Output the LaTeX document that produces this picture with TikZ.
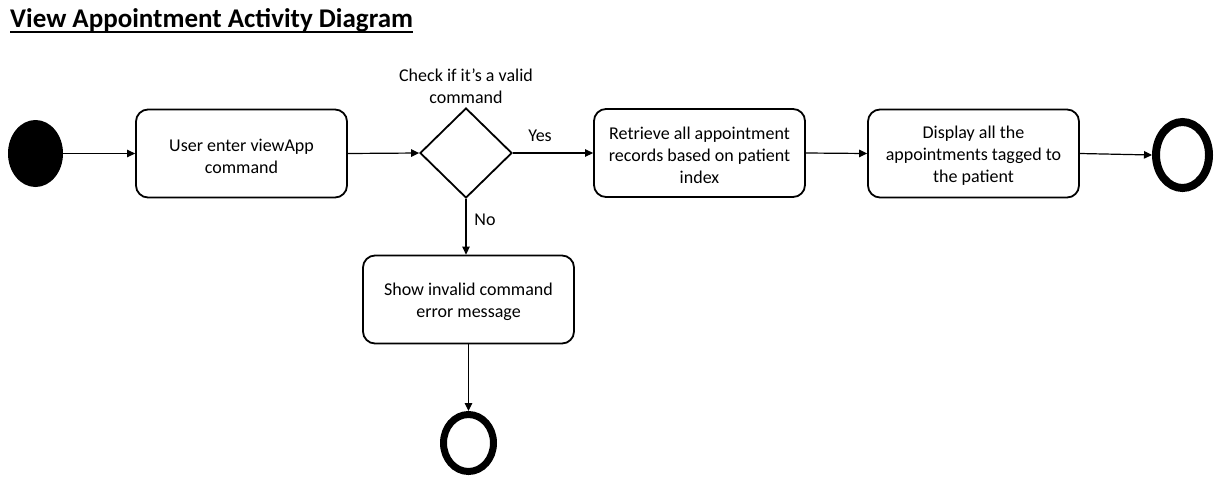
\documentclass[tikz,border=0pt]{standalone}
\usepackage{fontspec}
\setmainfont{Carlito}
\usetikzlibrary{shapes.geometric,arrows.meta}
\newcommand{\topfix}{\rule{0pt}{17.5pt}}
\tikzset{
  actbox/.style={draw,line width=1.8pt,rounded corners=12pt,minimum width=211pt,minimum height=88pt,align=center,inner sep=0pt,font=\fontsize{18}{22}\selectfont},
  flow/.style={line width=1.2pt,-{Triangle[length=8pt,width=7.5pt]}},
  lbl/.style={font=\fontsize{18}{22}\selectfont,align=center,inner sep=0pt},
  endring/.style={draw,ellipse,inner sep=0pt},
}
\begin{document}
\begin{tikzpicture}[x=1pt,y=-1pt]
\useasboundingbox (0,0) rectangle (1223,493);
\node[anchor=base west,inner sep=0pt,font=\bfseries\fontsize{27}{30}\selectfont] (title) at (10,27) {View Appointment Activity Diagram};
\draw[line width=2pt] ([yshift=-5pt]title.base west) -- ([yshift=-5pt]title.base east);
\node[ellipse,fill=black,inner sep=0pt,minimum width=55pt,minimum height=67pt] (start) at (35.5,153.5) {};
\node[actbox] (b1) at (241.5,153.5) {\topfix User enter viewApp\\command};
\node[diamond,draw,line width=1.8pt,inner sep=0pt,minimum width=92pt,minimum height=90pt] (d) at (466,153) {};
\node[lbl] (q) at (466,86) {Check if it’s a valid\\command};
\node[actbox] (b2) at (699.5,153) {\topfix Retrieve all appointment\\records based on patient\\index};
\node[actbox] (b3) at (973.5,153.5) {\topfix Display all the\\appointments tagged to\\the patient};
\node[endring,line width=8pt,minimum width=53pt,minimum height=66pt] (e1) at (1182.5,155) {};
\node[actbox] (b4) at (468.5,299.5) {\topfix Show invalid command\\error message};
\node[endring,line width=7pt,minimum width=50pt,minimum height=57pt] (e2) at (468.5,443) {};
\node[lbl] (yes) at (540,136) {Yes};
\node[lbl] (no) at (485,220) {No};
\draw[flow] (start.east) -- (b1.west);
\draw[flow] (b1.east) -- (d.west);
\draw[flow] (d.east) -- (b2.west);
\draw[flow] (b2.east) -- (b3.west);
\draw[flow] (b3.east) -- (e1.west);
\draw[flow] (d.south) -- (d.south |- b4.north);
\draw[flow] (b4.south) -- (e2.north);
\end{tikzpicture}
\end{document}
